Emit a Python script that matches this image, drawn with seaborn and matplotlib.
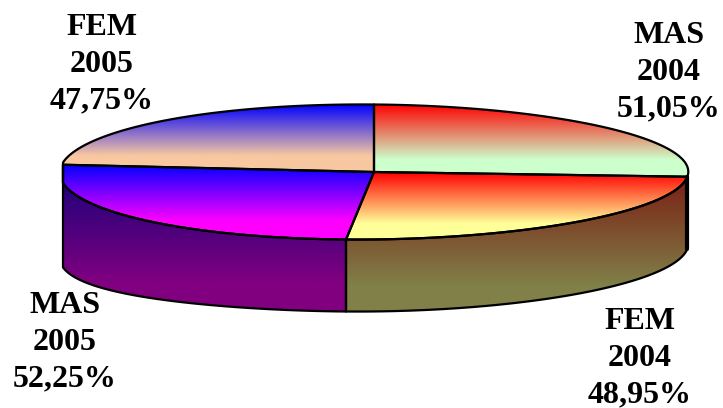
import numpy as np
import seaborn as sns
import matplotlib.pyplot as plt
from matplotlib.patches import Polygon

groups = ["MAS", "FEM", "MAS", "FEM"]
years = ["2004", "2004", "2005", "2005"]
values = [51.05, 48.95, 52.25, 47.75]

top_colors = [("#ff0000", "#ccffcc"), ("#ff0000", "#ffff99"), ("#0000ff", "#ff00ff"), ("#0000ff", "#f8c8a0")]
side_colors = [None, ("#7a1f14", "#808048"), ("#10007a", "#800080"), None]
label_pos = [(669, 72), (640, 358), (65, 342), (102, 64)]

sns.set_theme(style="white")
plt.rcParams["font.family"] = ["Liberation Serif", "DejaVu Serif"]

# 3d look of the pie, measured in pixels
cx, cy = 374, 172
rx, ry = 314, 67.5


def project(theta):
    u, v = np.sin(theta), np.cos(theta)
    x = cx + rx * u + 14 * v - 14 * v ** 2
    y = cy + 2.5 * u - ry * v
    return np.maximum(x, 63), y


def bottom(theta):
    x, y = project(theta)
    u = np.sin(theta)
    depth = 72 + 13 * np.clip(-u, 0, 1) ** 2.5
    return x, y + depth


def fill_gradient(ax, pts, colors, frac):
    # vertical gradient clipped to the polygon, end colour is held for the last part
    pal = np.array(sns.blend_palette(colors, n_colors=256))[:, :3]
    idx = (np.clip(np.linspace(0, 1, 256) / frac, 0, 1) * 255).astype(int)
    grad = pal[idx][:, None, :]
    x0, x1 = pts[:, 0].min(), pts[:, 0].max()
    y0, y1 = pts[:, 1].min(), pts[:, 1].max()
    im = ax.imshow(grad, extent=[x0, x1, y1, y0], aspect="auto", zorder=2, interpolation="bilinear")
    poly = Polygon(pts, closed=True, fc="none", ec="black", lw=1.6, joinstyle="round", zorder=3)
    ax.add_patch(poly)
    im.set_clip_path(poly)


fig = plt.figure(figsize=(7.23, 4.08), dpi=100)
ax = fig.add_axes([0, 0, 1, 1])

edges = np.radians(np.concatenate([[0], np.cumsum(values)]) / sum(values) * 360)

# sides first, then the top
for i in range(len(values)):
    if side_colors[i] is None:
        continue
    th = np.linspace(edges[i], edges[i + 1], 120)
    tx, ty = project(th)
    bx, by = bottom(th)
    pts = np.column_stack([np.r_[tx, bx[::-1]], np.r_[ty, by[::-1]]])
    fill_gradient(ax, pts, side_colors[i], 0.8)

for i in range(len(values)):
    th = np.linspace(edges[i], edges[i + 1], 120)
    tx, ty = project(th)
    pts = np.column_stack([np.r_[cx, tx], np.r_[cy, ty]])
    fill_gradient(ax, pts, top_colors[i], 0.76)

# dark strip on the right end of the side
ex, ey = project(edges[1])
bx, by = bottom(edges[1])
ax.plot([ex, bx], [ey, by], color="black", lw=3, zorder=4)

for i in range(len(values)):
    pct = f"{values[i]:.2f}".replace(".", ",") + "%"
    ax.text(label_pos[i][0], label_pos[i][1], f"{groups[i]}\n{years[i]}\n{pct}", ha="center", va="center",
            fontsize=23, fontweight="bold", color="black", linespacing=1.34, zorder=5)

ax.set_xlim(0, 723)
ax.set_ylim(408, 0)
ax.axis("off")

fig.savefig("out.png", dpi=100, facecolor="white")
